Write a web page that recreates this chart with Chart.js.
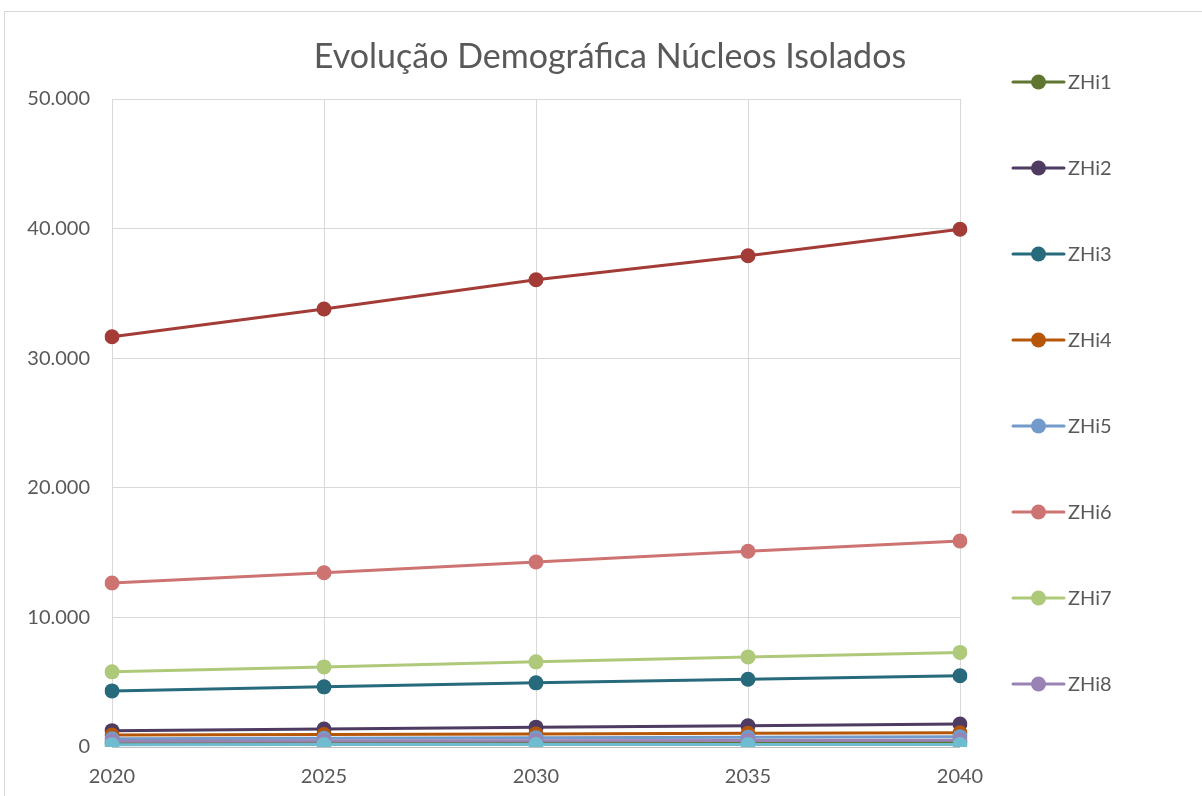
<!DOCTYPE html>
<html>
<head>
<meta charset="utf-8">
<script src="https://cdn.jsdelivr.net/npm/chart.js@4"></script>
<style>
  html, body { margin: 0; padding: 0; background: #ffffff; overflow: hidden; width: 1202px; height: 796px; }
  #frame { position: absolute; left: 4px; top: 11px; width: 1260px; height: 900px; border: 1px solid #D9D9D9; }
  #c { position: absolute; left: 0; top: 0; }
</style>
</head>
<body>
<div id="frame"></div>
<canvas id="c" width="1202" height="796"></canvas>
<script>
const titleText = 'Evolução Demográfica Núcleos Isolados';
const years = ['2020', '2025', '2030', '2035', '2040'];
const yTicks = [0, 10000, 20000, 30000, 40000, 50000];

const zhi1 = [300, 315, 330, 345, 360];
const zhi2 = [1260, 1390, 1530, 1640, 1775];
const zhi3 = [4330, 4640, 4950, 5230, 5500];
const zhi4 = [920, 960, 1010, 1060, 1100];
const zhi5 = [640, 680, 720, 760, 800];
const zhi6 = [12650, 13450, 14280, 15100, 15900];
const zhi7 = [5800, 6180, 6570, 6950, 7300];
const zhi8 = [450, 470, 490, 510, 530];
const zhi9 = [31650, 33800, 36050, 37900, 39950];
const zhi10 = [180, 185, 190, 195, 200];

const seriesNames = ['ZHi1', 'ZHi2', 'ZHi3', 'ZHi4', 'ZHi5', 'ZHi6', 'ZHi7', 'ZHi8', 'ZHi9', 'ZHi10'];
const seriesValues = [zhi1, zhi2, zhi3, zhi4, zhi5, zhi6, zhi7, zhi8, zhi9, zhi10];
const seriesColors = ['#5F7530', '#4D3B62', '#276A7C', '#B65708', '#729ACA', '#CD7371', '#AFC97A', '#9983B5', '#A33B36', '#6FBBD0'];
const legendCount = 8;

const TEXT = '#595959';
const FONT = 'Lato, "Open Sans", sans-serif';

function fmt(v) {
  return String(v).replace(/\B(?=(\d{3})+(?!\d))/g, '.');
}

const datasets = seriesNames.map((name, i) => ({
  label: name,
  data: seriesValues[i],
  borderColor: seriesColors[i],
  backgroundColor: seriesColors[i],
  pointBackgroundColor: seriesColors[i],
  pointBorderColor: seriesColors[i],
  borderWidth: 3,
  pointRadius: 7.5,
  pointBorderWidth: 0,
  pointHoverRadius: 7.5,
  tension: 0,
  fill: false,
  order: seriesNames.length - i
}));

const titleLegendPlugin = {
  id: 'titleLegend',
  afterDraw(chart) {
    const ctx = chart.ctx;
    ctx.save();
    ctx.fillStyle = TEXT;
    ctx.font = '34px ' + FONT;
    ctx.textAlign = 'center';
    ctx.textBaseline = 'middle';
    ctx.fillText(titleText, 610, 57);

    ctx.font = '20px ' + FONT;
    ctx.textAlign = 'left';
    for (let i = 0; i < legendCount; i++) {
      const y = 82 + i * 86;
      const col = chart.data.datasets[i].borderColor;
      ctx.strokeStyle = col;
      ctx.lineWidth = 3;
      ctx.lineCap = 'round';
      ctx.beginPath();
      ctx.moveTo(1013, y);
      ctx.lineTo(1064, y);
      ctx.stroke();
      ctx.fillStyle = col;
      ctx.beginPath();
      ctx.arc(1038.5, y, 7.5, 0, Math.PI * 2);
      ctx.fill();
      ctx.fillStyle = TEXT;
      ctx.fillText(chart.data.datasets[i].label, 1068, y + 1);
    }
    ctx.restore();
  }
};

new Chart(document.getElementById('c'), {
  type: 'line',
  data: { labels: years, datasets: datasets },
  options: {
    responsive: false,
    animation: false,
    devicePixelRatio: 1,
    layout: { padding: { left: 0, right: 242, top: 99, bottom: 0 } },
    plugins: {
      legend: { display: false },
      title: { display: false },
      tooltip: { enabled: false }
    },
    scales: {
      x: {
        type: 'category',
        offset: false,
        afterFit(scale) { scale.height = 49; },
        grid: { color: '#D9D9D9', lineWidth: 1, drawTicks: false },
        border: { display: false },
        ticks: { color: TEXT, font: { family: FONT, size: 20 }, padding: 18, maxRotation: 0 }
      },
      y: {
        min: 0,
        max: 50000,
        afterFit(scale) { scale.width = 112; },
        afterBuildTicks(scale) { scale.ticks = yTicks.map(v => ({ value: v })); },
        grid: {
          color: (c) => (c.tick && c.tick.value === 0 ? '#BFBFBF' : '#D9D9D9'),
          lineWidth: 1,
          drawTicks: false
        },
        border: { display: false },
        ticks: { color: TEXT, font: { family: FONT, size: 20 }, padding: 22, callback: (v) => fmt(v) }
      }
    }
  },
  plugins: [titleLegendPlugin]
});
</script>
</body>
</html>
